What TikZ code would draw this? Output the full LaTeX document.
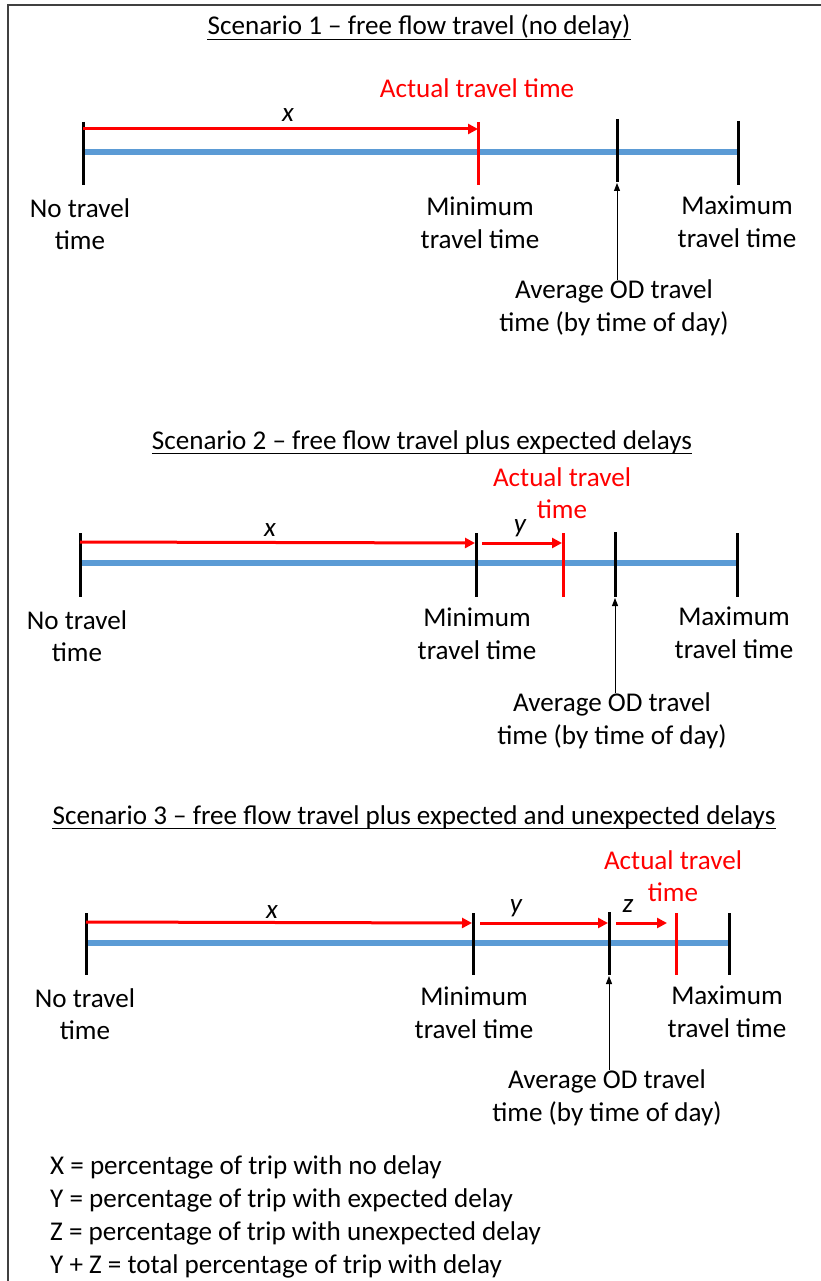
\documentclass[tikz,border=0pt]{standalone}
\usepackage{fontspec}
\setmainfont{Carlito}
\usetikzlibrary{arrows.meta}
\definecolor{barblue}{HTML}{5B9BD5}
\definecolor{actred}{HTML}{FF0000}
\begin{document}
\begin{tikzpicture}[x=1pt,y=-1pt,
  every node/.style={inner sep=0pt, font=\fontsize{27.1}{32.6}\selectfont},
  lbl/.style={align=center},
  redlbl/.style={align=center, text=actred},
  varlbl/.style={font=\fontsize{27.1}{32.6}\selectfont\itshape},
  bluebar/.style={line width=6.5pt, barblue},
  tickmark/.style={line width=3pt, black},
  redtick/.style={line width=3pt, actred},
  redarrow/.style={line width=3pt, actred, -{Triangle[length=10pt,width=10pt]}},
  avgarrow/.style={line width=1pt, black, -{Triangle[length=8pt,width=6pt]}},
  uline/.style={line width=1.6pt, black}]
\useasboundingbox (0,0) rectangle (821,1281);
\draw[line width=1.5pt, black!75] (8,1281) -- (8,5) -- (821,5);

% ---------------- Scenario 1
\node[anchor=base] (t1) at (419,35) {Scenario 1 – free flow travel (no delay)};
\draw[uline] ([yshift=-4.5pt]t1.base west) -- ([yshift=-4.5pt]t1.base east);
\coordinate (s1Lm) at (83,152); \coordinate (s1Xm) at (738,152);
\draw[bluebar] (s1Lm) -- (s1Xm);
\coordinate (s1Lt) at (83,122); \coordinate (s1Lb) at (83,185);
\coordinate (s1Mt) at (478,122); \coordinate (s1Mb) at (478,185);
\coordinate (s1At) at (617,119); \coordinate (s1Ab) at (617,182);
\coordinate (s1Xt) at (738,121); \coordinate (s1Xb) at (738,185);
\draw[tickmark] (s1Lt) -- (s1Lb);
\draw[redtick] (s1Mt) -- (s1Mb);
\draw[tickmark] (s1At) -- (s1Ab);
\draw[tickmark] (s1Xt) -- (s1Xb);
\coordinate (s1xa) at (83,129); \coordinate (s1xb) at (478,129);
\draw[redarrow] (s1xa) -- (s1xb);
\node[varlbl] (s1x) at (288,115) {x};
\node[redlbl] (s1act) at (477,88) {Actual travel time};
\node[lbl] (s1no) at (80,224) {No travel\\time};
\node[lbl] (s1min) at (480,223) {Minimum\\travel time};
\node[lbl] (s1max) at (737,222) {Maximum\\travel time};
\node[lbl] (s1avg) at (614,308) {Average OD travel\\time (by time of day)};
\draw[avgarrow] (s1avg.north -| s1Ab) -- ([yshift=-1pt]s1Ab);

% ---------------- Scenario 2
\node[anchor=base] (t2) at (422,449) {Scenario 2 – free flow travel plus expected delays};
\draw[uline] ([yshift=-4.5pt]t2.base west) -- ([yshift=-4.5pt]t2.base east);
\coordinate (s2Lm) at (80,563); \coordinate (s2Xm) at (737,563);
\draw[bluebar] (s2Lm) -- (s2Xm);
\coordinate (s2Lt) at (80,533); \coordinate (s2Lb) at (80,597);
\coordinate (s2Mt) at (476,533); \coordinate (s2Mb) at (476,597);
\coordinate (s2Rt) at (563,533); \coordinate (s2Rb) at (563,597);
\coordinate (s2At) at (615,532); \coordinate (s2Ab) at (615,597);
\coordinate (s2Xt) at (737,533); \coordinate (s2Xb) at (737,597);
\draw[tickmark] (s2Lt) -- (s2Lb);
\draw[tickmark] (s2Mt) -- (s2Mb);
\draw[redtick] (s2Rt) -- (s2Rb);
\draw[tickmark] (s2At) -- (s2Ab);
\draw[tickmark] (s2Xt) -- (s2Xb);
\coordinate (s2xa) at (80,542); \coordinate (s2xb) at (475,543);
\coordinate (s2ya) at (482,543); \coordinate (s2yb) at (562,543);
\draw[redarrow] (s2xa) -- (s2xb);
\draw[redarrow] (s2ya) -- (s2yb);
\node[varlbl] (s2x) at (270,530) {x};
\node[varlbl] (s2y) at (520,528) {y};
\node[redlbl] (s2act) at (562,493) {Actual travel\\time};
\node[lbl] (s2no) at (77,636) {No travel\\time};
\node[lbl] (s2min) at (477,634) {Minimum\\travel time};
\node[lbl] (s2max) at (734,633) {Maximum\\travel time};
\node[lbl] (s2avg) at (612,721) {Average OD travel\\time (by time of day)};
\draw[avgarrow] (s2avg.north -| s2Ab) -- ([yshift=-1pt]s2Ab);

% ---------------- Scenario 3
\node[anchor=base] (t3) at (414,824) {Scenario 3 – free flow travel plus expected and unexpected delays};
\draw[uline] ([yshift=-4.5pt]t3.base west) -- ([yshift=-4.5pt]t3.base east);
\coordinate (s3Lm) at (86,943); \coordinate (s3Xm) at (729,943);
\draw[bluebar] (s3Lm) -- (s3Xm);
\coordinate (s3Lt) at (86,913); \coordinate (s3Lb) at (86,975);
\coordinate (s3Mt) at (473,913); \coordinate (s3Mb) at (473,975);
\coordinate (s3At) at (609,912); \coordinate (s3Ab) at (609,975);
\coordinate (s3Rt) at (676,913); \coordinate (s3Rb) at (676,975);
\coordinate (s3Xt) at (729,913); \coordinate (s3Xb) at (729,975);
\draw[tickmark] (s3Lt) -- (s3Lb);
\draw[tickmark] (s3Mt) -- (s3Mb);
\draw[tickmark] (s3At) -- (s3Ab);
\draw[redtick] (s3Rt) -- (s3Rb);
\draw[tickmark] (s3Xt) -- (s3Xb);
\coordinate (s3xa) at (86,922); \coordinate (s3xb) at (472,923);
\coordinate (s3ya) at (480,923); \coordinate (s3yb) at (608,923);
\coordinate (s3za) at (616,923); \coordinate (s3zb) at (667,923);
\draw[redarrow] (s3xa) -- (s3xb);
\draw[redarrow] (s3ya) -- (s3yb);
\draw[redarrow] (s3za) -- (s3zb);
\node[varlbl] (s3x) at (272,912) {x};
\node[varlbl] (s3y) at (516,908) {y};
\node[varlbl] (s3z) at (628,906) {z};
\node[redlbl] (s3act) at (673,876) {Actual travel\\time};
\node[lbl] (s3no) at (85,1014) {No travel\\time};
\node[lbl] (s3min) at (474,1013) {Minimum\\travel time};
\node[lbl] (s3max) at (727,1012) {Maximum\\travel time};
\node[lbl] (s3avg) at (607,1098) {Average OD travel\\time (by time of day)};
\draw[avgarrow] (s3avg.north -| s3Ab) -- ([yshift=-1pt]s3Ab);

% ---------------- Legend
\node[align=left, anchor=west, font=\fontsize{27.1}{33}\selectfont] (legend) at (50,1217)
  {X = percentage of trip with no delay\\
   Y = percentage of trip with expected delay\\
   Z = percentage of trip with unexpected delay\\
   Y + Z = total percentage of trip with delay};
\end{tikzpicture}
\end{document}
